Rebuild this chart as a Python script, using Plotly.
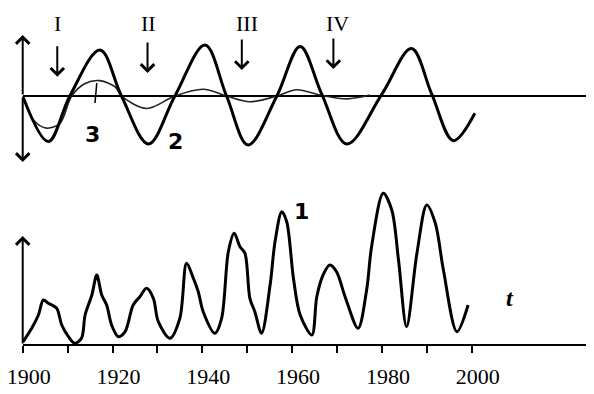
import plotly.graph_objects as go

# Curve 1: activity record (bottom panel)
years1 = [1900.1, 1902.0, 1903.5, 1904.6, 1905.7, 1906.5, 1907.6, 1908.7, 1910.2, 1911.6,
          1913.1, 1913.9, 1915.4, 1916.5, 1917.6, 1918.7, 1919.8, 1921.3, 1922.8, 1924.6,
          1926.1, 1927.6, 1929.1, 1930.2, 1932.8, 1935.0, 1936.5, 1938.0, 1939.1, 1940.2,
          1942.8, 1944.3, 1945.8, 1947.1, 1948.4, 1949.5, 1950.6, 1951.7, 1953.2, 1955.1,
          1956.2, 1957.7, 1958.8, 1960.3, 1961.8, 1964.4, 1965.5, 1966.9, 1968.4, 1969.9,
          1971.8, 1974.7, 1976.6, 1977.7, 1980.3, 1982.2, 1983.7, 1985.5, 1987.8, 1990.0,
          1991.9, 1993.7, 1996.7, 1999.2]
values1 = [3.3, 16.7, 30, 45, 41.7, 40, 36.7, 20, 8.3, 1.7,
           6.7, 30, 50, 70, 50, 40, 20, 8.3, 13.3, 40,
           48.3, 56.7, 46.7, 23.3, 6.7, 26.7, 81.7, 66.7, 53.3, 33.3,
           11.7, 26.7, 93.3, 111.7, 98.3, 91.7, 46.7, 33.3, 11.7, 60,
           103.3, 133.3, 123.3, 66.7, 30, 10, 48.3, 70, 80, 73.3,
           48.3, 16.7, 55, 98.3, 151.7, 135, 85, 18.3, 91.7, 140,
           121.7, 75, 13.3, 40]

# Curve 2: regular oscillation (top panel)
years2 = [1900.0, 1905.7, 1910.5, 1917.2, 1922.0, 1928.0, 1933.9, 1940.6, 1945.4, 1950.2,
          1956.6, 1961.8, 1966.6, 1972.2, 1980.0, 1986.6, 1991.1, 1995.9, 2000.7]
values2 = [0, -0.95, 0, 0.96, 0, -1.0, 0, 1.06, 0, -1.02,
           0, 1.03, 0.04, -1.0, 0.04, 0.99, 0.04, -0.93, -0.36]

# Curve 3: damped oscillation (top panel)
years3 = [1900.0, 1902.4, 1905.3, 1908.3, 1910.9, 1913.9, 1917.2, 1920.6, 1922.0, 1927.6,
          1933.9, 1940.2, 1945.4, 1950.6, 1956.6, 1961.0, 1966.3, 1972.2, 1977.3]
values3 = [0, -0.5, -0.67, -0.57, 0, 0.26, 0.32, 0.19, 0, -0.26,
           0, 0.14, 0, -0.12, 0, 0.13, 0.02, -0.06, 0.02]

tick_years = [1900, 1920, 1940, 1960, 1980, 2000]
minor_years = [1910, 1930, 1950, 1970, 1990]
phase_labels = ["I", "II", "III", "IV"]
phase_years = [1907.7, 1927.8, 1948.8, 1969.2]
phase_text_years = [1907.7, 1928.0, 1950.0, 1970.0]
phase_tips = [0.40, 0.48, 0.54, 0.56]

# the page body has an 8px margin: figure is drawn 8px in from the window corner
W, H = 586, 386
OFF = 8


def py(Y):
    # window pixel row -> paper fraction
    return 1 - (Y - OFF) / H


fig = go.Figure()
fig.add_trace(go.Scatter(x=years1, y=values1, mode="lines", yaxis="y",
                         line=dict(color="black", width=3, shape="spline", smoothing=0.9),
                         showlegend=False, hoverinfo="skip"))
fig.add_trace(go.Scatter(x=years3, y=values3, mode="lines", yaxis="y2",
                         line=dict(color="#222", width=1.6, shape="spline", smoothing=0.9),
                         showlegend=False, hoverinfo="skip"))
fig.add_trace(go.Scatter(x=years2, y=values2, mode="lines", yaxis="y2",
                         line=dict(color="black", width=3, shape="spline", smoothing=1.0),
                         showlegend=False, hoverinfo="skip"))

serif = "Liberation Serif, Times New Roman, serif"
hand = "DejaVu Sans, sans-serif"

ann = []
# vertical axis arrows
ann.append(dict(x=1900, y=109, ax=1900, ay=0, xref="x", yref="y", axref="x", ayref="y",
                text="", showarrow=True, arrowhead=4, arrowsize=1.3, arrowwidth=2, arrowcolor="black"))
ann.append(dict(x=1900, y=1.27, ax=1900, ay=0, xref="x", yref="y2", axref="x", ayref="y2",
                text="", showarrow=True, arrowhead=4, arrowsize=1.3, arrowwidth=2, arrowcolor="black"))
ann.append(dict(x=1900, y=-1.375, ax=1900, ay=0, xref="x", yref="y2", axref="x", ayref="y2",
                text="", showarrow=True, arrowhead=4, arrowsize=1.3, arrowwidth=2, arrowcolor="black"))
for lab, yr, tyr, tip in zip(phase_labels, phase_years, phase_text_years, phase_tips):
    ann.append(dict(x=yr, y=tip, xref="x", yref="y2", ax=0, ay=-32, text="",
                    showarrow=True, arrowhead=4, arrowsize=1.3, arrowwidth=2, arrowcolor="black"))
    ann.append(dict(x=tyr, y=py(23), xref="x", yref="paper", text=lab, showarrow=False,
                    font=dict(family=serif, size=22, color="black"), xanchor="center", yanchor="middle"))
# curve labels
ann.append(dict(x=1934.1, y=py(141), xref="x", yref="paper", text="<b>2</b>", showarrow=False,
                font=dict(family=hand, size=22, color="black")))
ann.append(dict(x=1962.0, y=py(211), xref="x", yref="paper", text="<b>1</b>", showarrow=False,
                font=dict(family=hand, size=22, color="black")))
ann.append(dict(x=1915.5, y=py(120), xref="x", yref="paper", text="<b>3</b>", showarrow=False,
                font=dict(family=hand, size=22, color="black")))
ann.append(dict(x=2008.6, y=py(313), xref="x", yref="paper", text="<b><i>t</i></b>", showarrow=False,
                font=dict(family=serif, size=24, color="black")))

shapes = [dict(type="line", xref="x", yref="paper", x0=1916.1, y0=py(103), x1=1916.5, y1=py(83),
               line=dict(color="black", width=1.5))]

fig.update_layout(
    width=W, height=H,
    margin=dict(l=0, r=0, t=0, b=0, pad=0),
    paper_bgcolor="white", plot_bgcolor="white",
    showlegend=False,
    annotations=ann, shapes=shapes,
    xaxis=dict(domain=[(22.7 - OFF) / W, 1], range=[1900, 2027.24], anchor="free",
               position=(H - (345 - OFF)) / H, automargin=False,
               showline=True, linecolor="black", linewidth=2, showgrid=False, zeroline=False,
               ticks="outside", ticklen=7, tickwidth=2, tickcolor="black",
               tickvals=tick_years, ticktext=[str(v) for v in tick_years],
               minor=dict(tickvals=minor_years, ticks="outside", ticklen=7, tickwidth=2, tickcolor="black"),
               tickfont=dict(family=serif, size=22, color="black"),
               ticklabelshift=6, ticklabelstandoff=5, ticklabeloverflow="allow"),
    yaxis=dict(domain=[0, 1], range=[-49, 345 - OFF], visible=False, fixedrange=True, automargin=False),
    yaxis2=dict(domain=[0, 1], range=[-(394 - 96) / 48, (96 - OFF) / 48], overlaying="y", anchor="x",
                automargin=False, showgrid=False, showticklabels=False, ticks="",
                zeroline=True, zerolinecolor="black", zerolinewidth=2, showline=False),
)

fig.write_html("out.html")
